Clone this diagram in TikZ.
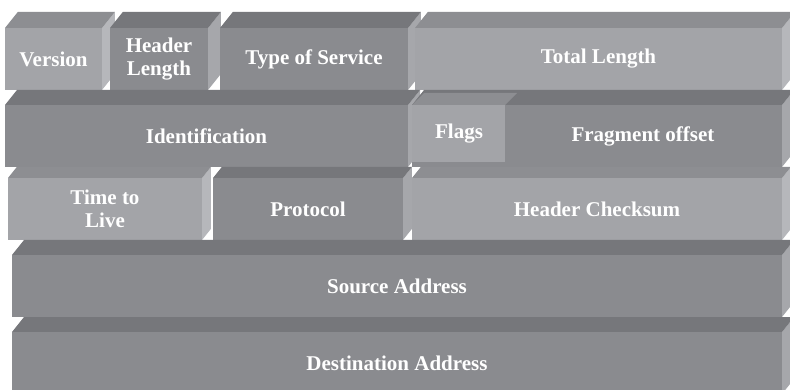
\documentclass[tikz,border=0pt]{standalone}
\usepackage{fontspec}
\setmainfont{Liberation Serif}
\definecolor{lightfront}{HTML}{A3A4A8}
\definecolor{lighttop}{HTML}{8D8E92}
\definecolor{lightside}{HTML}{B6B7BB}
\definecolor{darkfront}{HTML}{8A8B8F}
\definecolor{darktop}{HTML}{76777B}
\definecolor{darkside}{HTML}{A6A7AB}
\tikzset{
  fieldtext/.style={text=white, font=\bfseries\fontsize{21}{23}\selectfont,
    align=center, inner sep=0pt},
}
% #1 name, #2 left x, #3 right x, #4 front top y, #5 front bottom y,
% #6 depth of the top face, #7 palette (light/dark), #8 label
\newcommand\ipfield[8]{%
  \pgfmathsetmacro\ipDx{0.8*#6}%
  \pgfmathsetmacro\ipXl{#2+\ipDx}%
  \pgfmathsetmacro\ipXr{#3+\ipDx}%
  \pgfmathsetmacro\ipYt{#4-#6}%
  \pgfmathsetmacro\ipYs{#5-#6}%
  \pgfmathsetmacro\ipXc{(#2+#3)/2}%
  \pgfmathsetmacro\ipYc{(#4+#5)/2}%
  \fill[#7side] (#3,#4) -- (\ipXr,\ipYt) -- (\ipXr,\ipYs) -- (#3,#5) -- cycle;
  \fill[#7top] (#2,#4) -- (\ipXl,\ipYt) -- (\ipXr,\ipYt) -- (#3,#4) -- cycle;
  \fill[#7front] (#2,#4) rectangle (#3,#5);
  \node[fieldtext] (#1) at (\ipXc,\ipYc) {#8};
}
\begin{document}
\begin{tikzpicture}[x=1pt,y=-1pt]
\useasboundingbox (0,0) rectangle (790,390);
\clip (0,0) rectangle (790,390);
\fill[white] (0,0) rectangle (790,390);

% first word
\ipfield{version}{5}{102}{28}{90}{16}{light}{Version}
\ipfield{ihl}{110}{208}{28}{90}{16}{dark}{Header\\Length}
\ipfield{tos}{220}{408}{28}{90}{16}{dark}{Type of Service}
\ipfield{totlen}{415}{782}{28}{90}{16}{light}{Total Length}

% second word
\ipfield{ident}{5}{408}{105}{167}{15}{dark}{Identification}
\ipfield{fragoff}{412}{782}{105}{167}{15}{dark}{}
\fill[lighttop] (412,105) -- (424,93) -- (517,93) -- (505,105) -- cycle;
\fill[lightfront] (412,105) rectangle (505,162);
\node[fieldtext] (flags) at (459,133.5) {Flags};
\node[fieldtext] (fragtext) at (643,136) {Fragment offset};

% third word
\ipfield{ttl}{8}{202}{178}{240}{11}{light}{Time to\\Live}
\ipfield{proto}{213}{403}{178}{240}{11}{dark}{Protocol}
\ipfield{csum}{412}{782}{178}{240}{11}{light}{Header Checksum}

% addresses
\ipfield{src}{12}{782}{255}{317}{15}{dark}{Source Address}
\ipfield{dst}{12}{782}{332}{394}{15}{dark}{Destination Address}
\end{tikzpicture}
\end{document}
